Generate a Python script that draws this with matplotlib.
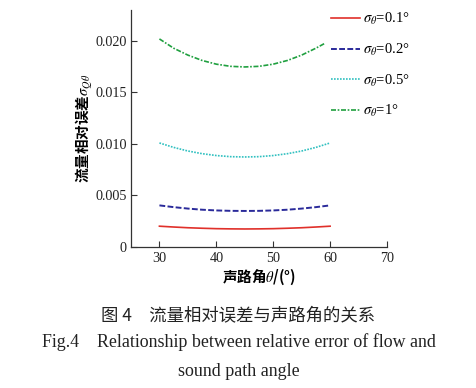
import matplotlib
matplotlib.use("Agg")
import matplotlib.pyplot as plt

plt.rcParams['font.family'] = ['Liberation Serif', 'Noto Sans CJK SC', 'DejaVu Sans']
plt.rcParams['mathtext.fontset'] = 'stix'

theta = [30, 32.5, 35, 37.5, 40, 42.5, 45, 47.5, 50, 52.5, 55, 57.5, 60]
s01 = [0.00202, 0.00194, 0.00187, 0.00182, 0.00178, 0.00176, 0.00175, 0.00176, 0.00178, 0.00182, 0.00187, 0.00194, 0.00202]
s02 = [0.00404, 0.00387, 0.00373, 0.00362, 0.00355, 0.00351, 0.00350, 0.00351, 0.00355, 0.00362, 0.00373, 0.00387, 0.00404]
s05 = [0.01010, 0.00967, 0.00932, 0.00906, 0.00888, 0.00877, 0.00874, 0.00877, 0.00888, 0.00906, 0.00932, 0.00967, 0.01010]
theta1 = [30, 32.5, 35, 37.5, 40, 42.5, 45, 47.5, 50, 52.5, 55, 57.5, 59]
s1 = [0.02020, 0.01930, 0.01863, 0.01811, 0.01775, 0.01754, 0.01748, 0.01754, 0.01775, 0.01811, 0.01863, 0.01930, 0.01975]

labels = [r'$\sigma_\theta$=0.1°', r'$\sigma_\theta$=0.2°', r'$\sigma_\theta$=0.5°', r'$\sigma_\theta$=1°']
xticks = [30, 40, 50, 60, 70]
yticks = [0, 0.005, 0.010, 0.015, 0.020]
yticklabels = ['0', '0.005', '0.010', '0.015', '0.020']

fig = plt.figure(figsize=(4.77, 3.88), dpi=100)
ax = fig.add_axes([0.2746, 0.3634, 0.5367, 0.6106])

ax.plot(theta, s01, color='#e0302a', lw=1.2, ls='-', label=labels[0])
ax.plot(theta, s02, color='#2a2a9a', lw=1.4, ls=(0, (3, 1.2)), label=labels[1])
ax.plot(theta, s05, color='#30c0c0', lw=1.2, ls=(0, (1, 0.8)), label=labels[2])
ax.plot(theta1, s1, color='#20a040', lw=1.2, ls=(0, (3, 1, 1, 1)), label=labels[3])

ax.set_xlim(25, 70)
ax.set_ylim(0, 0.023)
ax.set_xticks(xticks)
ax.set_yticks(yticks)
ax.set_yticklabels(yticklabels)
ax.tick_params(direction='in', labelsize=10.2, length=4, width=0.8, colors='#333333', labelcolor='#222222')
ax.tick_params(axis='y', pad=3)
ax.spines['top'].set_visible(False)
ax.spines['right'].set_visible(False)
for s in ['left', 'bottom']:
    ax.spines[s].set_color('#333333')
    ax.spines[s].set_linewidth(0.9)

ax.set_xlabel('声路角$\\theta$/(°)', fontsize=10.5, fontweight='bold',
              family=['Noto Sans CJK SC', 'Liberation Serif'], labelpad=1)
ax.set_ylabel('流量相对误差$\\sigma_{Q\\theta}$', fontsize=10.5, fontweight='bold',
              family=['Noto Sans CJK SC', 'Liberation Serif'], labelpad=0)

leg = fig.legend(loc='upper left', bbox_to_anchor=(0.666, 1.006), frameon=False,
                 fontsize=10.5, handlelength=2.0, handletextpad=0.2, labelspacing=1.01)

fig.text(0.5, 1 - 315/388, '图 4　流量相对误差与声路角的关系', ha='center', va='center',
         fontsize=12.5, family=['Noto Sans CJK SC', 'DejaVu Sans'], color='#222222')
fig.text(0.5, 1 - 342/388, 'Fig.4    Relationship between relative error of flow and', ha='center', va='center',
         fontsize=12.9, family=['Liberation Serif'], color='#222222')
fig.text(0.5, 1 - 371/388, 'sound path angle', ha='center', va='center',
         fontsize=12.9, family=['Liberation Serif'], color='#222222')

fig.savefig('out.png', dpi=100)
